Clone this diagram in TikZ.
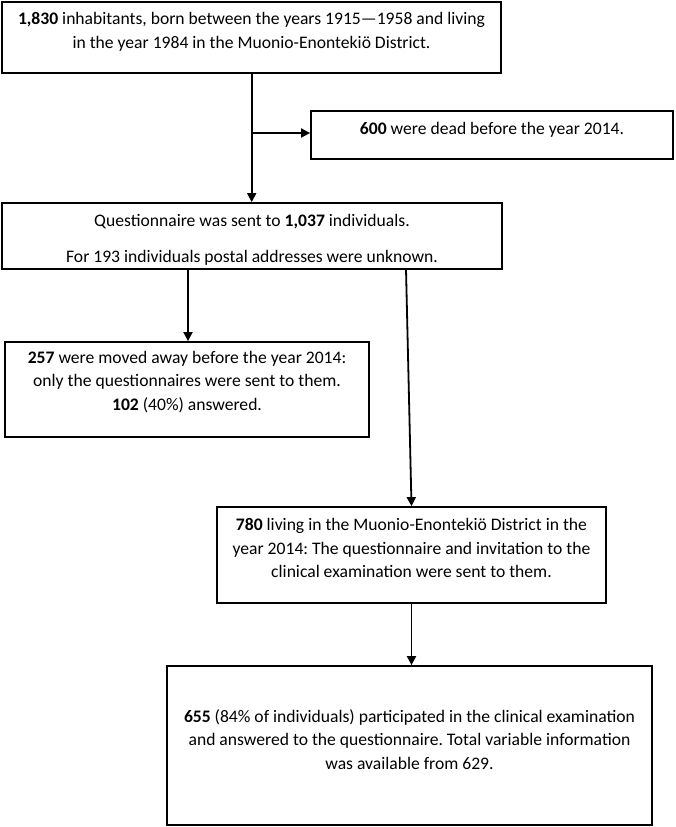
\documentclass[tikz,border=0pt]{standalone}
\usepackage{fontspec}
\setmainfont{Carlito}
\usetikzlibrary{arrows.meta}
\begin{document}
\frenchspacing
\begin{tikzpicture}[x=1pt,y=-1pt,
  box/.style={draw=black,line width=1.8pt,rectangle,inner sep=0pt},
  txt/.style={inner sep=0pt,align=center,font=\fontsize{17.6}{23.5}\selectfont},
  arr/.style={line width=1.8pt,-{Triangle[length=9pt,width=9pt]}},
  lin/.style={line width=1.8pt}]
\useasboundingbox (0,0) rectangle (675,827);
% boxes
\node[box,minimum width=499pt,minimum height=71pt] (b1) at (251.5,37.5) {};
\node[box,minimum width=362pt,minimum height=48pt] (b2) at (492,135) {};
\node[box,minimum width=500pt,minimum height=66pt] (b3) at (252,236) {};
\node[box,minimum width=364pt,minimum height=95pt] (b4) at (187,389.5) {};
\node[box,minimum width=389pt,minimum height=96pt] (b5) at (411.5,555) {};
\node[box,minimum width=485pt,minimum height=159pt] (b6) at (409.5,745.5) {};
% texts
\node[txt] (t1) at (251.5,32) {\textbf{1,830} inhabitants, born between the years 1915—1958 and living\\in the year 1984 in the Muonio-Enontekiö District.};
\node[txt] (t2) at (492,130) {\textbf{600} were dead before the year 2014.};
\node[txt] (t3) at (252,240) {Questionnaire was sent to \textbf{1,037} individuals.\\[12.5pt]For 193 individuals postal addresses were unknown.};
\node[txt] (t4) at (187,382) {\textbf{257} were moved away before the year 2014:\\only the questionnaires were sent to them.\\\textbf{102} (40\%) answered.};
\node[txt] (t5) at (411.5,548) {\textbf{780} living in the Muonio-Enontekiö District in the\\year 2014: The questionnaire and invitation to the\\clinical examination were sent to them.};
\node[txt] (t6) at (409.5,739.5) {\textbf{655} (84\% of individuals) participated in the clinical examination\\and answered to the questionnaire. Total variable information\\was available from 629.};
% connectors
\coordinate (s1) at (251.7,73);
\coordinate (j1) at (251.7,133);
\draw[arr] (s1) -- (s1 |- b3.north);
\draw[arr] (j1) -- (j1 -| b2.west);
\coordinate (s3) at (188,269);
\draw[arr] (s3) -- (s3 |- b4.north);
\coordinate (s4) at (406,269);
\draw[arr] (s4) -- (b5.north);
\draw[arr] (b5.south) -- (b5.south |- b6.north);
\end{tikzpicture}
\end{document}
